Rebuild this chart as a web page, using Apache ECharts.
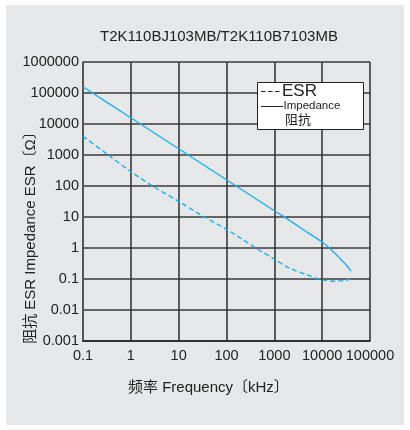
<!DOCTYPE html>
<html>
<head>
<meta charset="utf-8">
<script src="https://cdn.jsdelivr.net/npm/echarts@6/dist/echarts.min.js"></script>
<style>
html,body{margin:0;padding:0;background:#fff;}
#bg{position:absolute;left:6px;top:5px;width:398px;height:420px;background:#e6e7e8;}
#c{position:absolute;left:0;top:0;width:410px;height:430px;}
</style>
</head>
<body>
<div id="bg"></div>
<div id="c"></div>
<script>
// ---- data ----
const chartTitle = 'T2K110BJ103MB/T2K110B7103MB';
const xTickLabels = ['0.1', '1', '10', '100', '1000', '10000', '100000'];
const yTickLabels = ['0.001', '0.01', '0.1', '1', '10', '100', '1000', '10000', '100000', '1000000'];
const impFreq = [0.1, 1, 10, 100, 1000, 2000, 5000, 10000, 14000, 18000, 23000, 27000, 31500, 35000, 38000, 40500];
const impValues = [159000, 15900, 1590, 159, 15.9, 8.1, 3.15, 1.56, 1.02, 0.7, 0.48, 0.37, 0.29, 0.235, 0.2, 0.18];
const esrFreq = [0.1, 0.3, 1, 3, 10, 30, 100, 200, 420, 1000, 2000, 4600, 10000, 19500, 30000, 38500];
const esrValues = [4000, 1150, 290, 95, 32, 11.3, 4.0, 2.05, 0.98, 0.44, 0.23, 0.14, 0.094, 0.085, 0.09, 0.1];

const FONT = '"Liberation Sans", Arial, "Noto Sans CJK SC", sans-serif';
const CYAN = '#1eb0e8';

const chart = echarts.init(document.getElementById('c'), null, {renderer: 'canvas'});
const option = {
  backgroundColor: 'transparent',
  animation: false,
  grid: {left: 83, right: 40, top: 62, bottom: 89, containLabel: false},
  xAxis: {
    type: 'log', logBase: 10, min: 0.1, max: 100000, splitNumber: 6,
    axisLine: {show: true, lineStyle: {color: '#222', width: 1.5}},
    axisTick: {show: false},
    axisLabel: {
      margin: 8, color: '#222', fontSize: 14.5, fontFamily: FONT,
      formatter: v => xTickLabels[Math.round(Math.log10(v)) + 1]
    },
    splitLine: {show: true, lineStyle: {color: '#2e2e2e', width: 1.5}}
  },
  yAxis: {
    type: 'log', logBase: 10, min: 0.001, max: 1000000, splitNumber: 9,
    axisLine: {show: true, lineStyle: {color: '#555', width: 1.5}},
    axisTick: {show: false},
    axisLabel: {
      margin: 4, color: '#222', fontSize: 14.5, fontFamily: FONT,
      formatter: v => yTickLabels[Math.round(Math.log10(v)) + 3]
    },
    splitLine: {show: true, lineStyle: {color: '#3a3a3a', width: 1.5}}
  },
  series: [
    {
      name: 'Impedance', type: 'line', showSymbol: false, smooth: 0.3,
      data: impFreq.map((f, i) => [f, impValues[i]]),
      lineStyle: {color: CYAN, width: 1.4}
    },
    {
      name: 'ESR', type: 'line', showSymbol: false, smooth: 0.3,
      data: esrFreq.map((f, i) => [f, esrValues[i]]),
      lineStyle: {color: CYAN, width: 1.4, type: [5, 3]}
    }
  ],
  graphic: [
    {type: 'text', left: 100, top: 29, z: 10,
      style: {text: chartTitle, fontSize: 15, fontFamily: FONT, fill: '#222'}},
    {type: 'text', x: 31, y: 234, rotation: Math.PI / 2, z: 10,
      style: {text: '阻抗 ESR Impedance ESR〔Ω〕', fontSize: 15, fontFamily: FONT, fill: '#222',
        align: 'center', verticalAlign: 'middle'}},
    {type: 'text', x: 128, y: 388, z: 10,
      style: {text: '频率 Frequency〔kHz〕', fontSize: 15, fontFamily: FONT, fill: '#222',
        align: 'left', verticalAlign: 'middle'}},
    {type: 'rect', z: 20, shape: {x: 257.5, y: 82.5, width: 106, height: 47},
      style: {fill: '#fff', stroke: '#222', lineWidth: 1}},
    {type: 'line', z: 21, shape: {x1: 261, y1: 91.5, x2: 281, y2: 91.5},
      style: {stroke: '#222', lineWidth: 1, lineDash: [4.5, 2.5]}},
    {type: 'text', z: 21, x: 282, y: 91,
      style: {text: 'ESR', fontSize: 17, fontFamily: FONT, fill: '#222', align: 'left', verticalAlign: 'middle'}},
    {type: 'line', z: 21, shape: {x1: 261, y1: 106.5, x2: 283, y2: 106.5},
      style: {stroke: '#222', lineWidth: 1}},
    {type: 'text', z: 21, x: 283.5, y: 106,
      style: {text: 'Impedance', fontSize: 11.5, fontFamily: FONT, fill: '#222', align: 'left', verticalAlign: 'middle'}},
    {type: 'text', z: 21, x: 285, y: 120.5,
      style: {text: '阻抗', fontSize: 13, fontFamily: FONT, fill: '#222', align: 'left', verticalAlign: 'middle'}}
  ]
};
chart.setOption(option);
</script>
</body>
</html>
